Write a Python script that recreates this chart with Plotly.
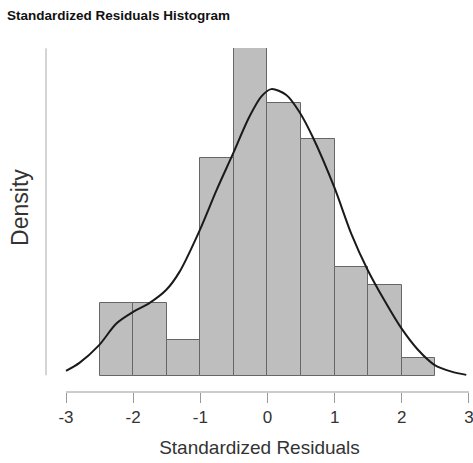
import plotly.graph_objects as go

# Histogram data (bins of width 0.5 from -2.5 to 2.5)
bin_left = [-2.5, -2.0, -1.5, -1.0, -0.5, 0.0, 0.5, 1.0, 1.5, 2.0]
counts = [4, 4, 2, 12, 18, 15, 13, 6, 5, 1]
bin_width = 0.5

# Density curve points
curve_x = [-3.0, -2.80, -2.51, -2.25, -2.0, -1.76, -1.51, -1.31, -1.01, -0.76, -0.52,
           -0.27, -0.09, 0.055, 0.28, 0.48, 0.67, 1.0, 1.245, 1.49, 1.74, 1.99,
           2.24, 2.49, 2.74, 2.96]
curve_y = [0.007, 0.018, 0.042, 0.072, 0.088, 0.100, 0.118, 0.143, 0.200, 0.255, 0.304,
           0.356, 0.384, 0.394, 0.386, 0.362, 0.329, 0.258, 0.196, 0.146, 0.104, 0.066,
           0.036, 0.015, 0.006, 0.0015]

x_ticks = [-3, -2, -1, 0, 1, 2, 3]

n = sum(counts)
dens = [c / (n * bin_width) for c in counts]
centers = [b + bin_width / 2 for b in bin_left]

FONT = "Liberation Sans, Arial, sans-serif"

fig = go.Figure()
fig.add_trace(go.Bar(
    x=centers, y=dens, width=[bin_width] * len(centers),
    marker=dict(color="#bebebe", line=dict(color="#666666", width=1)),
    hoverinfo="skip", showlegend=False,
))
fig.add_trace(go.Scatter(
    x=curve_x, y=curve_y, mode="lines",
    line=dict(color="#1a1a1a", width=2, shape="spline", smoothing=0.85),
    showlegend=False,
))

y_top = 0.4505
fig.update_layout(
    width=473, height=463,
    margin=dict(l=46, r=0, t=48, b=71),
    paper_bgcolor="white", plot_bgcolor="white",
    bargap=0,
    title=dict(text="<b>Standardized Residuals Histogram</b>", x=0.015, xanchor="left",
               y=0.968, yanchor="middle",
               font=dict(family=FONT, size=13.5, color="#111111")),
    xaxis=dict(range=[-3.298, 3.06], showgrid=False, zeroline=False, showline=False,
               tickvals=x_ticks, ticktext=[str(v) for v in x_ticks],
               ticks="outside", ticklen=10, tickwidth=1, tickcolor="#999999",
               ticklabeloverflow="allow",
               tickfont=dict(family=FONT, size=17, color="#333333"),
               title=dict(text="Standardized Residuals", standoff=14,
                          font=dict(family=FONT, size=19, color="#333333"))),
    yaxis=dict(range=[-0.022, y_top], showgrid=False, zeroline=False, showline=False,
               showticklabels=False, ticks=""),
    annotations=[
        dict(text="Density", xref="paper", yref="paper", x=-0.061, y=0.538,
             xanchor="center", yanchor="middle", textangle=-90, showarrow=False,
             font=dict(family=FONT, size=23, color="#333333")),
    ],
    shapes=[
        dict(type="line", xref="x", yref="paper", x0=-3, x1=3, y0=0, y1=0,
             line=dict(color="#999999", width=1)),
        dict(type="line", xref="paper", yref="y", x0=0, x1=0, y0=0.001, y1=y_top - 0.0005,
             line=dict(color="#aaaaaa", width=1)),
    ],
)

fig.write_html("out.html")
